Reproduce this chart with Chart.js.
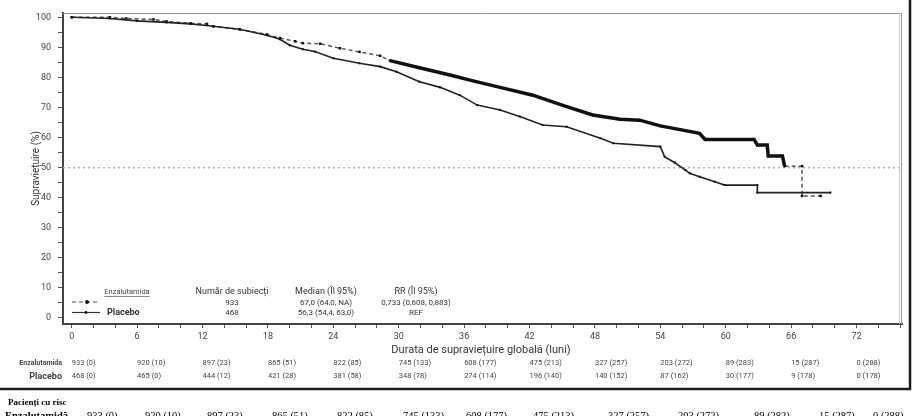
<!DOCTYPE html>
<html><head><meta charset="utf-8">
<script src="https://cdn.jsdelivr.net/npm/chart.js@4.4.0/dist/chart.umd.min.js"></script>
<style>html,body{margin:0;padding:0;background:#fff;} canvas{display:block;}</style>
</head><body>
<canvas id="c" width="922" height="416"></canvas>
<script>
// ---- data (curve vertices: month, survival %) ----
const enzMonths = [0, 3.5, 5, 7.5, 8.7, 10.9, 12.4, 13.0, 15.4, 17.9, 19.1, 20.5, 21.2, 22.8, 24.6, 26.4, 28.3, 29.2, 31.9, 34.7, 37.0, 39.3, 42.3, 45.4, 47.8, 50.3, 52.1, 54.0, 57.6, 58.1, 62.6, 62.9, 63.8, 63.9, 65.2, 65.4, 67.0, 67.0, 68.7];
const enzSurv   = [100, 100, 99.6, 99.3, 98.6, 98.0, 97.8, 97.0, 96.0, 94.3, 93.1, 92.0, 91.4, 91.2, 89.7, 88.5, 87.2, 85.6, 83.2, 80.8, 78.7, 76.7, 74.1, 70.3, 67.5, 66.1, 65.8, 63.9, 61.4, 59.4, 59.4, 57.5, 57.5, 53.9, 53.9, 50.5, 50.5, 40.6, 40.6];
const plaMonths = [0, 3.5, 6, 8.7, 10.9, 13.0, 15.4, 17.9, 19.1, 20.0, 21.2, 22.3, 24.0, 26.4, 28.3, 29.8, 31.9, 33.8, 35.6, 37.2, 39.3, 41.1, 43.2, 45.4, 48.5, 49.7, 54.0, 54.4, 55.3, 56.3, 56.7, 57.6, 59.0, 59.9, 62.9, 62.9, 69.6];
const plaSurv   = [100, 99.6, 98.8, 98.3, 97.8, 97.0, 96.0, 94.0, 92.7, 90.7, 89.4, 88.6, 86.4, 84.7, 83.6, 81.9, 78.6, 76.7, 74.1, 70.8, 69.2, 67.0, 64.2, 63.6, 59.8, 58.1, 57.0, 53.6, 51.7, 49.2, 48.1, 47.0, 45.3, 44.2, 44.2, 41.7, 41.7];

const xTickLabels = [0, 6, 12, 18, 24, 30, 36, 42, 48, 54, 60, 66, 72];
const yTickLabels = [0, 10, 20, 30, 40, 50, 60, 70, 80, 90, 100];
const medianLine = 50;

const riskMonths = [0, 6, 12, 18, 24, 30, 36, 42, 48, 54, 60, 66, 72];
const riskEnz = ["933 (0)", "920 (10)", "897 (23)", "865 (51)", "822 (85)", "745 (133)", "608 (177)", "475 (213)", "327 (257)", "203 (272)", "89 (283)", "15 (287)", "0 (288)"];
const riskPla = ["468 (0)", "465 (0)", "444 (12)", "421 (28)", "381 (58)", "348 (78)", "274 (114)", "196 (140)", "140 (152)", "87 (162)", "30 (177)", "9 (178)", "0 (178)"];
const riskEnzBottom = ["933 (0)", "920 (10)", "897 (23)", "865 (51)", "822 (85)", "745 (133)", "608 (177)", "475 (213)", "327 (257)", "203 (272)", "89 (282)", "15 (287)", "0 (288)"];

const legendHeaders = ["Număr de subiecți", "Median (Îl 95%)", "RR (Îl 95%)"];
const legendEnz = ["933", "67,0 (64,0, NA)", "0,733 (0,608, 0,883)"];
const legendPla = ["468", "56,3 (54,4, 63,0)", "REF"];

// ---- layout (pixels) ----
const bottomTableX = [87, 145, 207, 272, 337, 403, 466, 533, 608, 678, 754, 819, 873];
const legendColX = [232, 326, 416];
const SANS = "Roboto, 'Open Sans', sans-serif";
const SERIF = "'Liberation Serif', 'DejaVu Serif', serif";

function isThick(ctx) {
  return ctx.p0.parsed.x >= 29 && ctx.p1.parsed.x < 66.9;
}

const decor = {
  id: 'decor',
  beforeDatasetsDraw(chart) {
    const {ctx, chartArea: a, scales: {y}} = chart;
    const yy = y.getPixelForValue(medianLine);
    ctx.save();
    ctx.strokeStyle = '#b0b0b0';
    ctx.lineWidth = 1.5;
    ctx.setLineDash([2, 3]);
    ctx.beginPath(); ctx.moveTo(a.left, yy); ctx.lineTo(a.right, yy); ctx.stroke();
    ctx.restore();
  },
  afterDraw(chart) {
    const {ctx, chartArea: a, scales: {x, y}} = chart;
    ctx.save();
    // plot frame (top / right)
    ctx.strokeStyle = '#9a9a9a'; ctx.lineWidth = 1;
    ctx.beginPath(); ctx.moveTo(a.left, a.top + 0.5); ctx.lineTo(a.right, a.top + 0.5); ctx.stroke();
    ctx.beginPath(); ctx.moveTo(a.right - 0.5, a.top); ctx.lineTo(a.right - 0.5, a.bottom); ctx.stroke();
    ctx.strokeStyle = '#cfcfcf';
    ctx.beginPath(); ctx.moveTo(a.right - 2.5, a.top); ctx.lineTo(a.right - 2.5, a.bottom); ctx.stroke();

    // outer figure frame
    ctx.strokeStyle = '#1a1a1a'; ctx.lineWidth = 2.5;
    ctx.beginPath(); ctx.moveTo(910, 0); ctx.lineTo(910, 389); ctx.lineTo(0, 389); ctx.stroke();

    // axis titles
    ctx.fillStyle = '#333';
    ctx.font = "10px " + SANS;
    ctx.textAlign = 'center'; ctx.textBaseline = 'middle';
    ctx.save();
    ctx.translate(36, (a.top + a.bottom) / 2);
    ctx.rotate(-Math.PI / 2);
    ctx.fillText('Supraviețuire (%)', 0, 0);
    ctx.restore();
    ctx.font = "11px " + SANS;
    ctx.fillText('Durata de supraviețuire globală (luni)', 481, 350);

    // in-plot legend
    ctx.font = "7.5px " + SANS;
    ctx.fillStyle = '#444';
    ctx.fillText('Enzalutamida', 127, 292);
    const w = ctx.measureText('Enzalutamida').width;
    ctx.strokeStyle = '#666'; ctx.lineWidth = 0.8;
    ctx.beginPath(); ctx.moveTo(127 - w / 2, 296.5); ctx.lineTo(127 + w / 2, 296.5); ctx.stroke();

    ctx.strokeStyle = '#888'; ctx.lineWidth = 1.5; ctx.setLineDash([4, 3]);
    ctx.beginPath(); ctx.moveTo(72, 302); ctx.lineTo(98, 302); ctx.stroke();
    ctx.setLineDash([]);
    ctx.fillStyle = '#111';
    ctx.beginPath(); ctx.arc(87, 302, 2, 0, Math.PI * 2); ctx.fill();
    ctx.strokeStyle = '#333'; ctx.lineWidth = 1.2;
    ctx.beginPath(); ctx.moveTo(72, 312.5); ctx.lineTo(100, 312.5); ctx.stroke();
    ctx.beginPath(); ctx.arc(86, 312.5, 1.4, 0, Math.PI * 2); ctx.fill();
    ctx.fillStyle = '#333';
    ctx.textAlign = 'left';
    ctx.font = "bold 9px " + SANS;
    ctx.fillText('Placebo', 107, 312.5);

    ctx.textAlign = 'center';
    ctx.font = "9px " + SANS;
    legendHeaders.forEach((t, i) => ctx.fillText(t, legendColX[i], 291.5));
    ctx.font = "8px " + SANS;
    legendEnz.forEach((t, i) => ctx.fillText(t, legendColX[i], 302.5));
    legendPla.forEach((t, i) => ctx.fillText(t, legendColX[i], 313));

    // risk table inside the frame
    ctx.textAlign = 'right';
    ctx.font = "bold 7px " + SANS;
    ctx.fillStyle = '#444';
    ctx.fillText('Enzalutamida', 62, 363);
    ctx.font = "bold 9px " + SANS;
    ctx.fillText('Placebo', 62, 376.5);
    ctx.textAlign = 'left';
    ctx.font = "7.5px " + SANS;
    riskMonths.forEach((m, i) => {
      const px = x.getPixelForValue(m);
      ctx.fillText(riskEnz[i], px, 363);
      ctx.fillText(riskPla[i], px, 376.5);
    });

    // bottom table
    ctx.fillStyle = '#000';
    ctx.font = "bold 9px " + SERIF;
    ctx.textBaseline = 'middle';
    ctx.fillText('Pacienți cu risc', 8, 403);
    ctx.textBaseline = 'top';
    ctx.font = "bold 10.5px " + SERIF;
    ctx.fillText('Enzalutamidă', 5, 411);
    ctx.font = "10.5px " + SERIF;
    riskEnzBottom.forEach((t, i) => ctx.fillText(t, bottomTableX[i], 411));
    ctx.restore();
  }
};

new Chart(document.getElementById('c'), {
  type: 'line',
  data: {
    datasets: [
      {
        label: 'Placebo',
        data: plaMonths.map((m, i) => ({x: m, y: plaSurv[i]})),
        borderColor: '#222',
        borderWidth: 1.6,
        tension: 0,
        pointStyle: 'rect',
        pointRadius: 1.4,
        pointBackgroundColor: '#111',
        pointBorderWidth: 0,
        fill: false
      },
      {
        label: 'Enzalutamida',
        data: enzMonths.map((m, i) => ({x: m, y: enzSurv[i]})),
        borderColor: '#555',
        borderWidth: 1.5,
        borderDash: [4, 3],
        tension: 0,
        pointStyle: 'rect',
        pointRadius: 1.8,
        pointBackgroundColor: '#111',
        pointBorderWidth: 0,
        fill: false,
        segment: {
          borderWidth: ctx => isThick(ctx) ? 3.5 : 1.5,
          borderDash: ctx => isThick(ctx) ? [] : [4, 3],
          borderColor: ctx => isThick(ctx) ? '#111' : '#555'
        }
      }
    ]
  },
  options: {
    responsive: false,
    animation: false,
    devicePixelRatio: 1,
    layout: {padding: {left: 0, right: 20, top: 13, bottom: 0}},
    plugins: {legend: {display: false}, tooltip: {enabled: false}},
    scales: {
      x: {
        type: 'linear',
        min: -0.8,
        max: 76.17,
        afterBuildTicks: s => {
          const t = [];
          for (let v = 0; v <= 76; v += 2) t.push({value: v});
          s.ticks = t;
        },
        afterFit: s => { s.height = 92; },
        ticks: {
          autoSkip: false, maxRotation: 0, padding: 3,
          color: '#444', font: {family: SANS, size: 9},
          callback: v => xTickLabels.includes(v) ? String(v) : ''
        },
        grid: {drawOnChartArea: false, drawTicks: true, tickLength: 4, tickColor: '#555', tickWidth: 1},
        border: {display: true, color: '#444', width: 2}
      },
      y: {
        type: 'linear',
        min: -2,
        max: 101.43,
        afterBuildTicks: s => {
          const t = [];
          for (let v = 0; v <= 100; v += 5) t.push({value: v});
          s.ticks = t;
        },
        afterFit: s => { s.width = 63; },
        ticks: {
          autoSkip: false, padding: 7,
          color: '#444', font: {family: SANS, size: 9},
          callback: v => yTickLabels.includes(v) ? String(v) : ''
        },
        grid: {drawOnChartArea: false, drawTicks: true, tickLength: 5, tickColor: '#555', tickWidth: 1},
        border: {display: true, color: '#444', width: 2}
      }
    }
  },
  plugins: [decor]
});
</script>
</body></html>
